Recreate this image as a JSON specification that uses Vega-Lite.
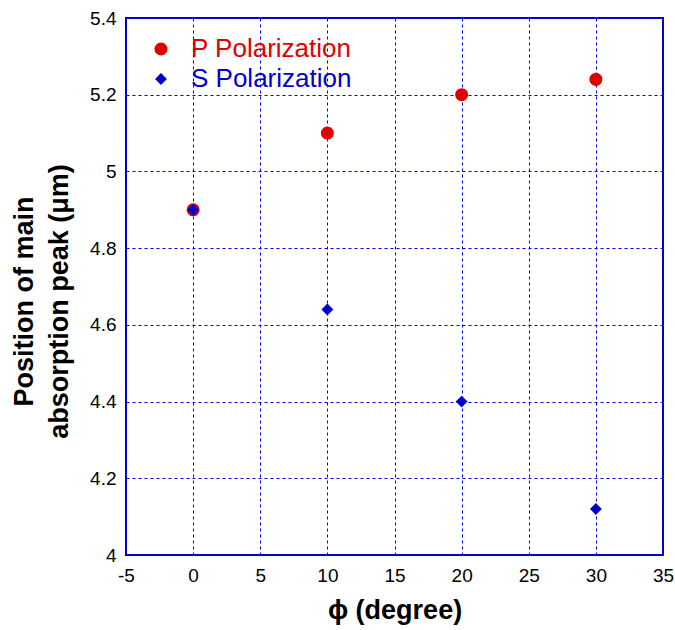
{
  "$schema": "https://vega.github.io/schema/vega-lite/v6.json",
  "width": 537,
  "height": 537,
  "autosize": "none",
  "padding": {"left": 126, "top": 18, "right": 12, "bottom": 75},
  "background": "white",
  "config": {
    "font": "Liberation Sans",
    "view": {"stroke": "#0000cc", "strokeWidth": 2},
    "axis": {
      "grid": true,
      "gridColor": "#0000ee",
      "gridDash": [3, 3],
      "gridWidth": 1,
      "gridOpacity": 1,
      "domain": false,
      "ticks": false,
      "labelFont": "Liberation Sans",
      "labelFontSize": 19,
      "labelColor": "black",
      "labelExpr": "'' + datum.value",
      "titleFont": "Liberation Sans",
      "titleFontWeight": "bold",
      "titleFontSize": 27,
      "titleColor": "black"
    }
  },
  "data": {
    "values": [
      {"phi": 0, "peak": 4.9, "series": "P Polarization"},
      {"phi": 10, "peak": 5.1, "series": "P Polarization"},
      {"phi": 20, "peak": 5.2, "series": "P Polarization"},
      {"phi": 30, "peak": 5.24, "series": "P Polarization"},
      {"phi": 0, "peak": 4.9, "series": "S Polarization"},
      {"phi": 10, "peak": 4.64, "series": "S Polarization"},
      {"phi": 20, "peak": 4.4, "series": "S Polarization"},
      {"phi": 30, "peak": 4.12, "series": "S Polarization"}
    ]
  },
  "mark": {"type": "point", "filled": true, "opacity": 1, "strokeWidth": 0},
  "encoding": {
    "x": {
      "field": "phi",
      "type": "quantitative",
      "scale": {"domain": [-5, 35], "nice": false, "zero": false},
      "axis": {"values": [-5, 0, 5, 10, 15, 20, 25, 30, 35], "labelPadding": 11, "title": "ϕ (degree)", "titlePadding": 12, "labelFlush": false}
    },
    "y": {
      "field": "peak",
      "type": "quantitative",
      "scale": {"domain": [4, 5.4], "nice": false, "zero": false},
      "axis": {
        "values": [4, 4.2, 4.4, 4.6, 4.8, 5, 5.2, 5.4],
        "labelPadding": 10,
        "labelFlush": false,
        "title": ["Position of main", "absorption peak (μm)"],
        "titleX": -115,
        "titleY": 283,
        "titleAngle": -90,
        "titleAlign": "center",
        "titleBaseline": "top",
        "titleLineHeight": 35
      }
    },
    "color": {
      "field": "series",
      "type": "nominal",
      "scale": {"domain": ["P Polarization", "S Polarization"], "range": ["#e00000", "#0000cc"]},
      "legend": {
        "title": null,
        "orient": "none",
        "legendX": 22,
        "legendY": 18,
        "padding": 0,
        "labelFontSize": 26,
        "labelFont": "Liberation Sans",
        "labelOffset": 17,
        "labelLimit": 400,
        "rowPadding": 4,
        "symbolSize": 170,
        "symbolStrokeWidth": 0,
        "labelColor": {"expr": "datum.value === 'P Polarization' ? '#e00000' : '#0000cc'"}
      }
    },
    "shape": {
      "field": "series",
      "type": "nominal",
      "scale": {"domain": ["P Polarization", "S Polarization"], "range": ["circle", "diamond"]}
    },
    "size": {
      "field": "series",
      "type": "nominal",
      "scale": {"domain": ["P Polarization", "S Polarization"], "range": [170, 140]},
      "legend": null
    }
  }
}
